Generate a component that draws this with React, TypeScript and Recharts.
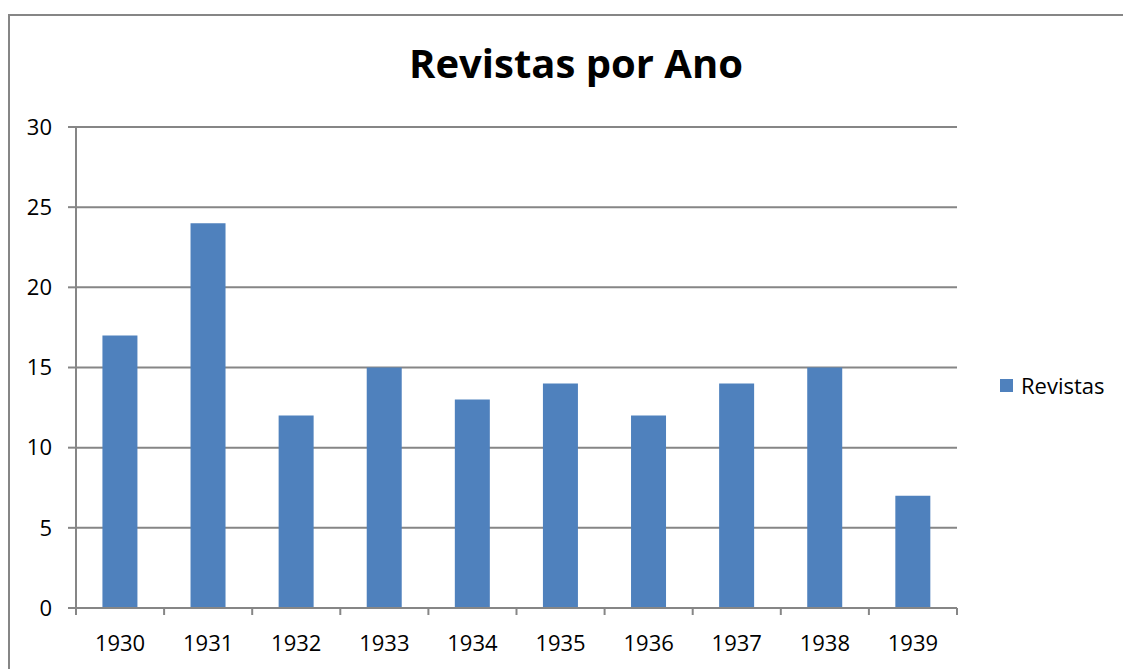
import { BarChart, Bar, XAxis, YAxis, CartesianGrid } from 'recharts';

const years = ['1930', '1931', '1932', '1933', '1934', '1935', '1936', '1937', '1938', '1939'];
const revistas = [17, 24, 12, 15, 13, 14, 12, 14, 15, 7];
const yTicks = [0, 5, 10, 15, 20, 25, 30];
const seriesName = 'Revistas';
const title = 'Revistas por Ano';

const data = years.map((year, i) => ({ year, revistas: revistas[i] }));

const FONT = '"Open Sans", Lato, sans-serif';
const GREY = '#868686';
const BLUE = '#4F81BD';

const YearTick = ({ x, y, payload, index }: any) => {
  const half = payload?.offset ?? 44;
  return (
    <g>
      <line x1={x - half} y1={y} x2={x - half} y2={y + 7} stroke={GREY} strokeWidth={2} />
      {index === years.length - 1 && (
        <line x1={x + half} y1={y} x2={x + half} y2={y + 7} stroke={GREY} strokeWidth={2} />
      )}
      <text x={x} y={y + 43} textAnchor="middle" fontSize={22} fontFamily={FONT} fill="#000">
        {payload.value}
      </text>
    </g>
  );
};

const App = () => {
  return (
    <div style={{ position: 'relative', width: 1123, height: 661, overflow: 'hidden' }}>
      <div
        style={{
          position: 'absolute',
          left: 0,
          top: 6,
          width: 1200,
          height: 700,
          border: `2px solid ${GREY}`,
          boxSizing: 'border-box',
        }}
      />
      <div
        style={{
          position: 'absolute',
          left: 0,
          width: 1136,
          top: 35,
          textAlign: 'center',
          fontFamily: FONT,
          fontWeight: 700,
          fontSize: 40,
          lineHeight: '40px',
          color: '#000',
        }}
      >
        {title}
      </div>
      <div style={{ position: 'absolute', left: 0, top: 0 }}>
        <BarChart
          width={1100}
          height={660}
          data={data}
          margin={{ top: 119, right: 151, bottom: 20, left: 8 }}
          barCategoryGap="30%"
        >
          <CartesianGrid horizontal vertical={false} stroke={GREY} strokeWidth={2} />
          <XAxis
            dataKey="year"
            height={40}
            axisLine={{ stroke: GREY, strokeWidth: 2 }}
            tickLine={false}
            tickSize={0}
            tickMargin={0}
            interval={0}
            tick={<YearTick />}
          />
          <YAxis
            width={60}
            domain={[0, 30]}
            ticks={yTicks}
            interval={0}
            axisLine={{ stroke: GREY, strokeWidth: 2 }}
            tickLine={{ stroke: GREY, strokeWidth: 2 }}
            tickSize={8}
            tickMargin={16}
            tick={{ fontSize: 22, fontFamily: FONT, fill: '#000' }}
          />
          <Bar dataKey="revistas" name={seriesName} fill={BLUE} isAnimationActive={false} />
        </BarChart>
      </div>
      <div
        style={{
          position: 'absolute',
          left: 992,
          top: 363,
          display: 'flex',
          alignItems: 'center',
          fontFamily: FONT,
          fontSize: 22,
          lineHeight: '28px',
          color: '#000',
        }}
      >
        <span style={{ display: 'inline-block', width: 13, height: 13, background: BLUE, marginRight: 8 }} />
        {seriesName}
      </div>
    </div>
  );
};

export default App;
